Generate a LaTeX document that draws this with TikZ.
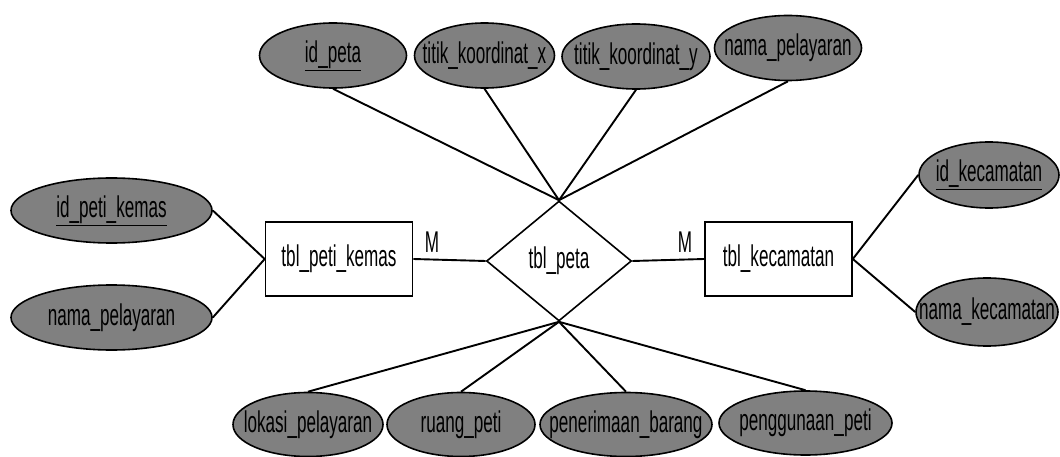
\documentclass[tikz,border=0pt]{standalone}
\usepackage{fontspec}
\setmainfont{Liberation Sans}[FakeStretch=0.57]
\usetikzlibrary{shapes.geometric}

\definecolor{attrgray}{RGB}{128,128,128}
\newcommand{\attrtext}[1]{\makebox[0pt]{#1}}

\tikzset{
  attr/.style={ellipse, draw=black, line width=1.6pt, fill=attrgray,
    inner sep=0pt, minimum width=#1, minimum height=65pt},
  attr/.default=147pt,
  entity/.style={rectangle, draw=black, line width=1.6pt, fill=white,
    inner sep=0pt, minimum width=147pt, minimum height=74pt},
  relation/.style={diamond, draw=black, line width=1.6pt, fill=white,
    inner sep=0pt, minimum width=145pt, minimum height=120pt},
  link/.style={draw=black, line width=1.9pt},
  card/.style={inner sep=0pt}
}

\begin{document}
\begin{tikzpicture}[x=1pt, y=-1pt, font=\fontsize{30}{32}\selectfont]
  \useasboundingbox (0,0) rectangle (1060,457);

  % entities and relationship
  \node[entity] (pk) at (339,259) {tbl\_peti\_kemas};
  \node[relation] (peta) at (559,261) {\attrtext{tbl\_peta}};
  \node[entity] (kec) at (778.5,259) {tbl\_kecamatan};

  % attributes of tbl_peta (top row)
  \node[attr] (idpeta) at (333,55.5) {\attrtext{\underline{id\_peta}}};
  \node[attr=140pt] (tkx) at (484.5,55.5) {\attrtext{titik\_koordinat\_x}};
  \node[attr=148pt] (tky) at (636,56.5) {\attrtext{titik\_koordinat\_y}};
  \node[attr] (npel) at (788,48) {\attrtext{nama\_pelayaran}};

  % attributes of tbl_peta (bottom row)
  \node[attr=150pt, minimum height=64pt] (lok) at (308,424.5) {\attrtext{lokasi\_pelayaran}};
  \node[attr=148pt, minimum height=64pt] (ruang) at (461,424.5) {\attrtext{ruang\_peti}};
  \node[attr=172pt, minimum height=64pt] (terima) at (626,424.5) {\attrtext{penerimaan\_barang}};
  \node[attr=173pt, minimum height=64pt] (guna) at (805.5,423) {\attrtext{penggunaan\_peti}};

  % attributes of tbl_peti_kemas
  \node[attr=201pt] (idpk) at (111.5,210.5) {\attrtext{\underline{id\_peti\_kemas}}};
  \node[attr=201pt] (npk) at (111.5,317.5) {\attrtext{nama\_pelayaran}};

  % attributes of tbl_kecamatan
  \node[attr=140pt, minimum height=66pt] (idkec) at (989,175) {\attrtext{\underline{id\_kecamatan}}};
  \node[attr=142pt, minimum height=68pt] (nkec) at (987,312) {\attrtext{nama\_kecamatan}};

  % connectors
  \foreach \a in {idpeta,tkx,tky,npel}
    \draw[link] (\a.south) -- (peta.north);
  \foreach \a in {lok,ruang,terima,guna}
    \draw[link] (peta.south) -- (\a.north);
  \draw[link] (idpk.east) -- (pk.west);
  \draw[link] (npk.east) -- (pk.west);
  \draw[link] (kec.east) -- (idkec.west);
  \draw[link] (kec.east) -- (nkec.west);
  \draw[link] (pk.east) -- (peta.west);
  \draw[link] (peta.east) -- (kec.west);

  % cardinalities
  \node[card] (m1) at (432,242) {M};
  \node[card] (m2) at (685,242) {M};
\end{tikzpicture}
\end{document}
